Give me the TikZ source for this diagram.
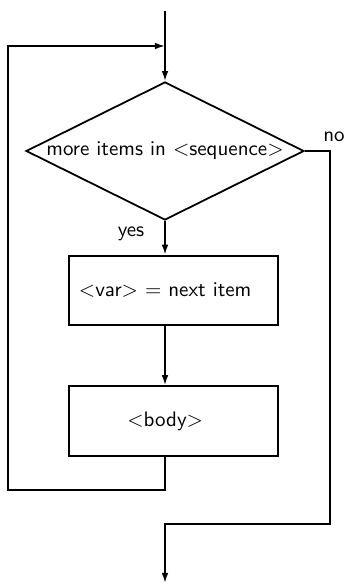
\documentclass[tikz,border=0pt]{standalone}
\usetikzlibrary{shapes.geometric,arrows.meta}
\begin{document}
\begin{tikzpicture}[x=0.476pt,y=-0.476pt,
  every node/.style={font=\sffamily},
  ln/.style={line width=0.85pt},
  arr/.style={ln,-{Latex[length=4.8pt,width=3.2pt]}},
  decbox/.style={draw,ln,shape=diamond,aspect=2,inner sep=0pt,minimum width=132.3pt,minimum height=65.7pt},
  procbox/.style={draw,ln,rectangle,minimum width=99.5pt,minimum height=33.2pt,inner sep=0pt}]
\useasboundingbox (0,0) rectangle (343,584);
\coordinate (start) at (165,11);
\coordinate (merge) at (165,46);
\node[decbox] (dec) at (165,151) {more items in $<$sequence$>$};
\node[procbox] (var) at (173.7,290.5) {\hspace*{-8.1pt}$<$var$>$ $=$ next item};
\node[procbox] (body) at (173.7,421) {\hspace*{-8.1pt}$<$body$>$};
\coordinate (lb) at (165,490);
\coordinate (ll) at (8,490);
\coordinate (lt) at (8,46);
\coordinate (r1) at (330,151);
\coordinate (r2) at (330,524);
\coordinate (r3) at (165,524);
\coordinate (stop) at (165,583);
\node (no) at (334,137) {no};
\node (yes) at (131,234) {yes};
\draw[ln] (start) -- (merge);
\draw[arr] (merge) -- (dec.north);
\draw[arr] (dec.south) -- (dec.south |- var.north);
\draw[arr] (var.south -| dec.south) -- (body.north -| dec.south);
\draw[arr] (body.south -| lb) -- (lb) -- (ll) -- (lt) -- (merge);
\draw[arr] (dec.east) -- (r1) -- (r2) -- (r3) -- (stop);
\end{tikzpicture}
\end{document}
